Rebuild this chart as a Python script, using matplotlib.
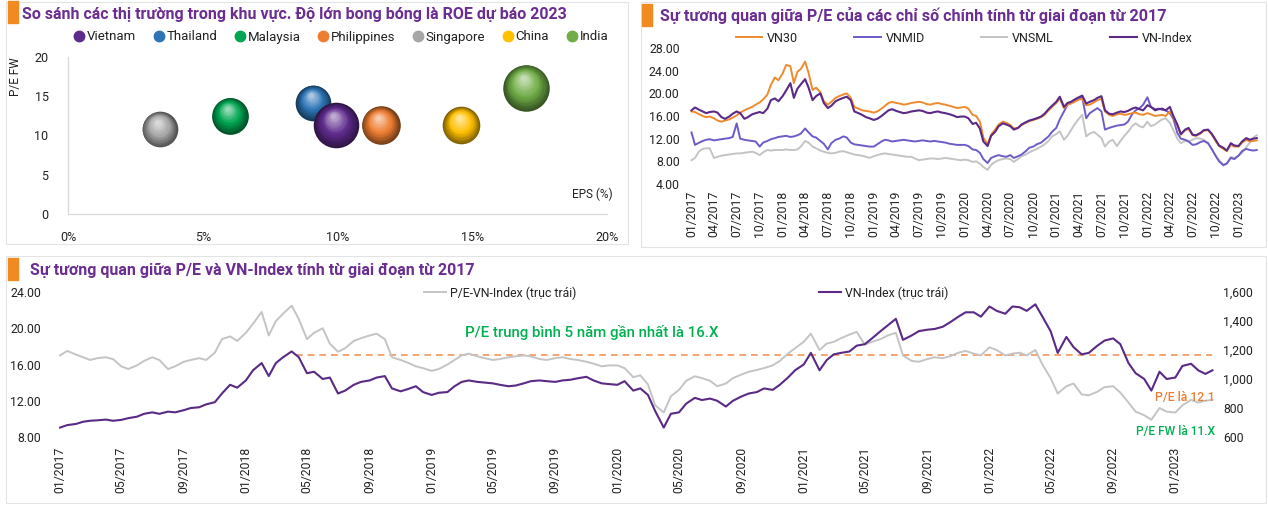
import numpy as np
import pandas as pd
import matplotlib
matplotlib.use('Agg')
import matplotlib.pyplot as plt
import matplotlib.dates as mdates
import matplotlib.ticker as mticker
from matplotlib import font_manager as fm
from matplotlib.lines import Line2D
from matplotlib.patches import Rectangle
from matplotlib.transforms import offset_copy
from matplotlib.colors import to_rgb


### fonts: a narrow face if there is one
names = {f.name for f in fm.fontManager.ttflist}
if 'Liberation Sans Narrow' in names:
    base_font = 'Liberation Sans Narrow'
    fs = 10
else:
    base_font = 'Roboto'
    fs = 8.5
plt.rcParams['font.family'] = [base_font, 'DejaVu Sans']


### data: bubble chart (EPS growth %, P/E forward, ROE 2023 as size)
markets = ['Vietnam', 'Thailand', 'Malaysia', 'Philippines', 'Singapore', 'China', 'India']
eps_growth = [9.95, 9.1, 6.0, 11.6, 3.4, 14.6, 17.0]
pe_fw = [11.3, 14.2, 12.5, 11.3, 10.8, 11.3, 16.1]
roe_2023 = [16.3, 10.0, 10.6, 11.7, 10.0, 11.1, 17.0]
bubble_colors = ['#5e2a8c', '#2e75b6', '#00a651', '#ed7d31', '#a6a6a6', '#ffc000', '#70ad47']

### data: semi-monthly series 01/2017 - 03/2023
dates = pd.date_range('2017-01-01', periods=150, freq='SMS')

pe_vnindex = [
    17.0, 17.5, 17.1, 16.8, 16.5, 16.7, 16.8, 16.6, 15.8, 15.5, 15.9, 16.4,
    16.8, 16.5, 15.5, 15.8, 16.3, 16.5, 16.7, 16.5, 17.3, 18.8, 19.1, 18.6,  # 2017
    19.5, 20.5, 21.8, 19.2, 20.8, 21.6, 22.5, 21.0, 18.8, 19.5, 20.0, 18.3,
    17.4, 17.8, 18.6, 18.9, 19.2, 19.4, 18.8, 16.8, 16.5, 16.2, 15.8, 15.6,  # 2018
    15.3, 15.5, 16.0, 16.5, 17.0, 17.2, 16.9, 16.7, 16.5, 16.6, 16.8, 16.9,
    17.0, 16.9, 16.6, 16.5, 16.7, 16.8, 16.6, 16.5, 16.3, 16.1, 15.8, 15.9,  # 2019
    15.9, 15.6, 14.6, 14.8, 13.8, 11.5, 10.7, 12.5, 13.2, 14.2, 14.7, 14.5,
    14.2, 13.6, 13.9, 14.5, 14.9, 15.2, 15.4, 15.6, 15.9, 16.4, 17.2, 17.8,  # 2020
    18.5, 19.4, 17.6, 18.3, 18.5, 18.9, 19.3, 19.6, 18.2, 18.5, 18.8, 19.2,
    19.5, 17.0, 16.4, 16.3, 16.6, 16.8, 16.7, 16.9, 17.3, 17.5, 17.2, 17.0,  # 2021
    17.9, 17.6, 17.0, 17.2, 17.3, 17.0, 17.6, 16.0, 14.5, 12.8, 13.6, 13.9,
    12.7, 12.6, 13.0, 13.5, 13.6, 12.9, 11.8, 10.8, 10.4, 9.9, 11.2, 10.8,   # 2022
    10.7, 11.5, 12.1, 11.8, 12.0, 12.1,                                      # 2023
]

pe_vn30 = [
    16.8, 16.7, 16.3, 16.0, 15.8, 15.9, 15.6, 15.2, 15.0, 15.2, 15.4, 15.7,
    16.1, 16.6, 17.0, 17.3, 17.6, 18.0, 18.4, 18.9, 19.8, 21.5, 22.8, 22.3,
    23.5, 25.0, 24.8, 21.8, 23.8, 24.3, 25.6, 23.6, 20.6, 21.0, 20.2, 18.6,
    18.0, 18.5, 19.2, 19.5, 19.8, 20.0, 19.2, 17.6, 17.3, 17.0, 16.9, 16.8,
    16.6, 16.8, 17.3, 17.8, 18.3, 18.5, 18.3, 18.2, 18.0, 18.1, 18.3, 18.4,
    18.5, 18.4, 18.1, 18.0, 18.2, 18.3, 18.1, 18.0, 17.8, 17.6, 17.4, 17.5,
    17.6, 17.3, 16.2, 16.0, 15.0, 12.2, 11.0, 12.7, 13.6, 14.5, 15.0, 14.8,
    14.4, 13.8, 13.9, 14.4, 14.8, 15.1, 15.3, 15.5, 15.8, 16.2, 17.0, 17.6,
    18.3, 19.1, 17.4, 18.0, 18.2, 18.5, 18.9, 19.0, 17.9, 18.0, 18.4, 18.8,
    19.0, 16.8, 16.2, 16.0, 16.3, 16.4, 16.2, 16.3, 16.5, 16.6, 16.3, 16.2,
    16.5, 16.3, 16.0, 16.1, 16.2, 16.0, 16.8, 15.8, 14.3, 12.7, 13.5, 13.7,
    12.6, 12.5, 12.9, 13.4, 13.5, 12.8, 11.6, 10.7, 10.2, 9.8, 10.9, 10.6,
    10.6, 11.3, 11.8, 11.5, 11.6, 11.7,
]

pe_vnmid = [
    13.1, 10.9, 11.3, 11.6, 11.8, 11.9, 11.7, 11.8, 11.9, 12.0, 12.1, 12.3,
    14.7, 12.0, 11.8, 11.7, 11.6, 11.5, 10.6, 11.3, 11.6, 11.9, 12.1, 12.3,
    12.4, 12.5, 12.3, 12.4, 12.6, 12.9, 13.8, 13.1, 12.4, 12.2, 11.6, 11.1,
    10.1, 11.2, 11.8, 12.0, 12.4, 12.2, 11.3, 11.0, 10.9, 10.8, 10.7, 10.6,
    10.6, 11.0, 11.5, 11.8, 11.7, 11.5, 11.6, 11.7, 11.8, 11.7, 11.6, 11.5,
    11.6, 11.7, 11.6, 11.5, 11.6, 11.5, 11.4, 11.3, 11.1, 11.0, 10.9, 10.9,
    10.9, 10.7, 10.1, 10.0, 9.5, 8.4, 7.7, 8.6, 8.9, 9.1, 8.9, 8.8,
    9.1, 8.6, 8.9, 9.2, 9.8, 10.4, 10.6, 11.0, 11.3, 11.8, 12.4, 13.2,
    13.9, 15.4, 16.8, 18.0, 18.3, 18.6, 19.0, 19.3, 15.6, 16.5, 17.0, 17.4,
    16.8, 13.6, 13.9, 14.1, 14.3, 14.4, 14.5, 15.0, 16.3, 17.0, 17.4, 18.0,
    19.3, 17.6, 17.2, 17.3, 17.1, 17.0, 16.5, 15.5, 13.0, 12.0, 11.8, 11.5,
    10.9, 11.0, 11.4, 11.6, 11.2, 10.2, 9.0, 8.0, 7.3, 7.6, 8.6, 8.4,
    9.0, 9.8, 10.2, 10.0, 9.9, 10.0,
]

pe_vnsml = [
    8.2, 8.6, 9.8, 10.2, 10.3, 10.3, 8.6, 8.8, 9.0, 9.1, 9.2, 9.3,
    9.4, 9.4, 9.5, 9.6, 9.7, 9.5, 9.1, 9.6, 10.0, 9.9, 10.0, 10.0,
    10.0, 10.1, 10.0, 10.0, 10.1, 10.6, 11.6, 11.3, 10.6, 10.3, 9.9, 9.7,
    9.5, 9.4, 9.5, 9.7, 9.8, 9.6, 9.4, 9.2, 9.1, 9.0, 8.8, 8.6,
    8.9, 9.1, 9.3, 9.4, 9.3, 9.2, 9.1, 9.0, 8.9, 8.8, 8.8, 8.5,
    8.2, 8.3, 8.4, 8.5, 8.5, 8.4, 8.5, 8.6, 8.5, 8.4, 8.3, 8.2,
    8.3, 8.2, 7.9, 8.0, 7.6, 7.0, 6.5, 7.4, 7.9, 8.2, 8.4, 8.5,
    8.4, 7.9, 8.4, 8.9, 9.2, 9.6, 9.9, 10.2, 10.6, 11.0, 11.6, 12.4,
    12.8, 13.3, 11.8, 12.5, 13.5, 14.5, 15.5, 16.2, 12.4, 12.9, 13.2, 12.7,
    12.1, 10.6, 11.5, 11.8, 10.7, 11.6, 12.5, 13.2, 14.2, 14.7, 14.2, 14.0,
    15.0, 14.2, 14.5, 15.0, 15.4, 15.6, 14.8, 13.5, 12.0, 11.2, 11.6, 11.5,
    11.8, 12.1, 12.0, 11.8, 11.2, 10.3, 9.0, 8.2, 7.5, 7.6, 8.8, 8.6,
    9.0, 9.5, 10.5, 11.3, 12.2, 12.6,
]

vnindex = [
    665, 682, 690, 705, 712, 715, 720, 712, 718, 730, 740, 760,
    770, 760, 775, 770, 785, 800, 805, 825, 840, 900, 960, 940,
    990, 1060, 1110, 1020, 1110, 1150, 1190, 1150, 1040, 1050, 1000, 1010,
    900, 920, 960, 980, 990, 1010, 1020, 935, 915, 930, 950, 910,
    890, 905, 910, 950, 980, 990, 980, 975, 970, 960, 950, 955,
    970, 985, 990, 985, 980, 990, 995, 1005, 1015, 990, 970, 965,
    960, 985, 920, 935, 890, 780, 665, 760, 770, 830, 870, 855,
    865, 850, 810, 850, 880, 900, 910, 935, 925, 960, 1010, 1060,
    1100, 1180, 1060, 1130, 1170, 1180, 1190, 1230, 1240, 1280, 1330, 1370,
    1415, 1270, 1300, 1330, 1340, 1345, 1360, 1390, 1430, 1460, 1460, 1430,
    1500, 1470, 1450, 1500, 1495, 1470, 1515, 1430, 1330, 1180, 1290, 1220,
    1170, 1180, 1230, 1265, 1280, 1240, 1110, 1040, 1000, 920, 1050, 1000,
    1010, 1090, 1105, 1060, 1035, 1060,
]

pe_avg_5y = 17.0
avg_line_start = pd.Timestamp('2018-04-10')

### colours
PURPLE_T = '#6b2d91'
ORANGE = '#ed7d31'
GREEN = '#00b050'
C_VN30 = '#ef8a2e'
C_VNMID = '#6e5bc8'
C_VNSML = '#c4c4c4'
C_VNI = '#5a2a86'
TXT = '#222222'

W, H = 1268, 508
fig = plt.figure(figsize=(W / 100, H / 100), dpi=100)
fig.patch.set_facecolor('white')


def fx(px):
    return px / W


def fy(py):
    return 1 - py / H


def box(x0, y0, x1, y1):
    return [fx(x0), fy(y1), fx(x1) - fx(x0), fy(y0) - fy(y1)]


renderer = fig.canvas.get_renderer()


def fit_text(t, width_px):
    w = t.get_window_extent(renderer=renderer).width
    t.set_fontsize(t.get_fontsize() * width_px / w)


# panel frames and title marks
for x0, y0, x1, y1 in [(6, 2, 628, 244), (641, 2, 1266, 247), (6, 256, 1266, 503)]:
    fig.patches.append(Rectangle((fx(x0), fy(y1)), fx(x1) - fx(x0), fy(y0) - fy(y1),
                                 transform=fig.transFigure, fill=False,
                                 edgecolor='#e3e3e3', linewidth=0.8))
for x0, y0 in [(8, 1), (642, 4), (8, 258)]:
    fig.patches.append(Rectangle((fx(x0), fy(y0 + 22)), fx(10), 22 / H,
                                 transform=fig.transFigure, color='#f28a22'))

t1 = fig.text(fx(22), fy(15), 'So sánh các thị trường trong khu vực. Độ lớn bong bóng là ROE dự báo 2023',
              color=PURPLE_T, weight='bold', fontsize=12, va='center', ha='left')
fit_text(t1, 546)
t2 = fig.text(fx(660), fy(16), 'Sự tương quan giữa P/E của các chỉ số chính tính từ giai đoạn từ 2017',
              color=PURPLE_T, weight='bold', fontsize=12, va='center', ha='left')
fit_text(t2, 505)
t3 = fig.text(fx(30), fy(270), 'Sự tương quan giữa P/E và VN-Index tính từ giai đoạn từ 2017',
              color=PURPLE_T, weight='bold', fontsize=12, va='center', ha='left')
fit_text(t3, 445)


### panel 1: bubble chart
ax1 = fig.add_axes(box(68, 57, 607, 214))


def sphere(ax, x, y, s, color, z):
    base = np.array(to_rgb(color))
    dark = base * 0.5
    light = base + (1 - base) * 0.6
    d = np.sqrt(s)
    n = 16
    for i in range(n):
        t = i / (n - 1)
        size = s * (1 - 0.88 * t) ** 2
        if t < 0.45:
            col = dark + (base - dark) * (t / 0.45)
        else:
            col = base + (light - base) * ((t - 0.45) / 0.55)
        tr = offset_copy(ax.transData, fig=ax.figure, x=-0.06 * d * t, y=0.2 * d * t, units='points')
        ax.scatter([x], [y], s=size, color=np.clip(col, 0, 1), transform=tr,
                   zorder=z + i * 0.01, linewidths=0, clip_on=False)


k_size = 66
for j in range(len(markets) - 1, -1, -1):
    sphere(ax1, eps_growth[j], pe_fw[j], roe_2023[j] * k_size, bubble_colors[j], 3 + (len(markets) - j))

ax1.set_xlim(0, 20)
ax1.set_ylim(0, 20)
ax1.set_xticks(np.arange(0, 21, 5))
ax1.set_yticks(np.arange(0, 21, 5))
ax1.xaxis.set_major_formatter(mticker.FuncFormatter(lambda v, p: f'{v:.0f}%'))
ax1.tick_params(length=0, labelsize=fs + 0.5, colors=TXT)
ax1.tick_params(axis='x', pad=12)
ax1.tick_params(axis='y', pad=14)
for sp in ['top', 'right']:
    ax1.spines[sp].set_visible(False)
for sp in ['left', 'bottom']:
    ax1.spines[sp].set_color('#d9d9d9')
    ax1.spines[sp].set_linewidth(0.9)
ax1.text(-0.085, 1.0, 'P/E FW', transform=ax1.transAxes, rotation=90, ha='right', va='top',
         fontsize=fs, color=TXT)
ax1.text(1.01, 0.08, 'EPS (%)', transform=ax1.transAxes, ha='right', va='bottom',
         fontsize=fs, color=TXT)

h1 = [Line2D([], [], marker='o', linestyle='', markersize=7.5, markerfacecolor=c,
             markeredgecolor=c) for c in bubble_colors]
fig.legend(h1, markets, loc='center', bbox_to_anchor=(fx(341), fy(37)), ncol=7,
           frameon=False, fontsize=fs + 1, handletextpad=0.2, columnspacing=1.3,
           handlelength=0.8, borderpad=0, labelcolor=TXT)


### panel 2: P/E of main indices
ax2 = fig.add_axes(box(688, 48, 1258, 184))
ax2.plot(dates, pe_vn30, color=C_VN30, lw=1.4, label='VN30', zorder=3)
ax2.plot(dates, pe_vnmid, color=C_VNMID, lw=1.4, label='VNMID', zorder=2)
ax2.plot(dates, pe_vnsml, color=C_VNSML, lw=1.4, label='VNSML', zorder=1)
ax2.plot(dates, pe_vnindex, color=C_VNI, lw=1.5, label='VN-Index', zorder=4)
ax2.set_ylim(4, 28)
ax2.set_yticks(np.arange(4, 29, 4))
ax2.yaxis.set_major_formatter(mticker.FormatStrFormatter('%.2f'))
ax2.set_xlim(pd.Timestamp('2016-12-18'), pd.Timestamp('2023-03-20'))
ax2.xaxis.set_major_locator(mdates.MonthLocator(bymonth=[1, 4, 7, 10]))
ax2.xaxis.set_major_formatter(mdates.DateFormatter('%m/%Y'))
ax2.tick_params(length=0, labelsize=fs + 0.3, colors=TXT)
ax2.tick_params(axis='x', rotation=90, pad=5)
ax2.tick_params(axis='y', pad=6)
for sp in ax2.spines.values():
    sp.set_visible(False)
ax2.legend(loc='center', bbox_to_anchor=(fx(964), fy(38)), bbox_transform=fig.transFigure,
           ncol=4, frameon=False, fontsize=fs + 0.5, handlelength=2.1, handletextpad=0.4,
           columnspacing=4.5, borderpad=0, labelcolor=TXT)


### panel 3: P/E vs VN-Index
ax3 = fig.add_axes(box(55, 292, 1215, 437))
ax3b = ax3.twinx()
l_pe, = ax3.plot(dates, pe_vnindex, color=C_VNSML, lw=1.4, zorder=2)
ax3.hlines(pe_avg_5y, avg_line_start, dates[-1], colors='#f2955a', linestyles=(0, (4, 3)),
           lw=1.2, zorder=1)
l_vni, = ax3b.plot(dates, vnindex, color=C_VNI, lw=1.5, zorder=3)
ax3.set_ylim(8, 24)
ax3.set_yticks(np.arange(8, 25, 4))
ax3.yaxis.set_major_formatter(mticker.FormatStrFormatter('%.2f'))
ax3b.set_ylim(600, 1600)
ax3b.set_yticks(np.arange(600, 1601, 200))
ax3b.yaxis.set_major_formatter(mticker.StrMethodFormatter('{x:,.0f}'))
ax3.set_xlim(pd.Timestamp('2016-12-22'), pd.Timestamp('2023-03-20'))
ax3.xaxis.set_major_locator(mdates.MonthLocator(bymonth=[1, 5, 9]))
ax3.xaxis.set_major_formatter(mdates.DateFormatter('%m/%Y'))
for a in (ax3, ax3b):
    a.tick_params(length=0, labelsize=fs + 0.3, colors=TXT)
    for sp in a.spines.values():
        sp.set_visible(False)
ax3.tick_params(axis='x', rotation=90, pad=7)
ax3.tick_params(axis='y', pad=10)
ax3b.tick_params(axis='y', pad=6)

lg1 = ax3b.legend([l_pe], ['P/E-VN-Index (trục trái)'], loc='center left',
                  bbox_to_anchor=(fx(418), fy(293)), bbox_transform=fig.transFigure,
                  frameon=False, fontsize=fs + 0.3, handlelength=1.8, handletextpad=0.3,
                  borderpad=0, labelcolor=TXT)
ax3b.add_artist(lg1)
ax3b.legend([l_vni], ['VN-Index (trục trái)'], loc='center left',
            bbox_to_anchor=(fx(813), fy(293)), bbox_transform=fig.transFigure,
            frameon=False, fontsize=fs + 0.3, handlelength=1.8, handletextpad=0.3,
            borderpad=0, labelcolor=TXT)

a1 = fig.text(fx(465), fy(333), 'P/E trung bình 5 năm gần nhất là 16.X', color=GREEN,
              fontsize=fs + 1, va='center', ha='left', weight='medium')
fit_text(a1, 255)
a2 = fig.text(fx(1155), fy(398), 'P/E là 12.1', color=ORANGE, fontsize=fs + 1,
              va='center', ha='left', weight='medium')
fit_text(a2, 60)
a3 = fig.text(fx(1136), fy(431), 'P/E FW là 11.X', color=GREEN, fontsize=fs + 1,
              va='center', ha='left', weight='medium')
fit_text(a3, 80)

fig.savefig('out.png', dpi=100, facecolor='white')
